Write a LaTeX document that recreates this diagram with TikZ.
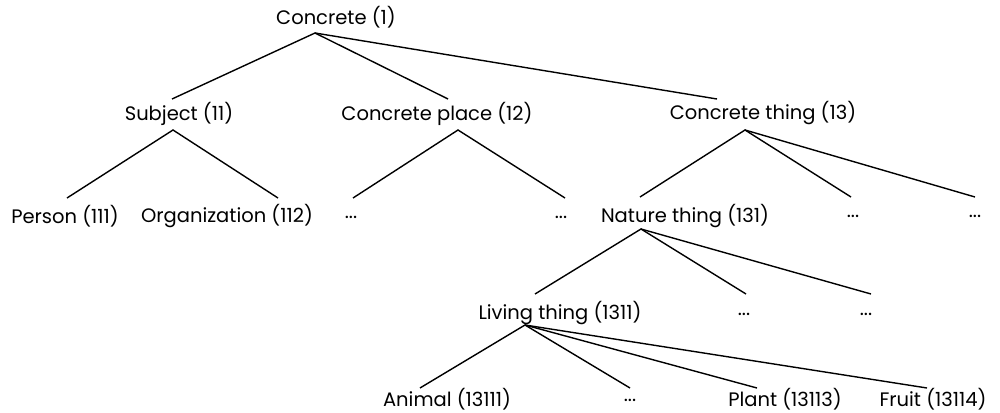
\documentclass[tikz,border=0pt]{standalone}
\usepackage{fontspec}
\setmainfont{Poppins}
\begin{document}
\begin{tikzpicture}[x=1pt,y=-1pt,
  lbl/.style={inner sep=0pt,font=\fontsize{19.5}{22}\selectfont},
  edge/.style={line width=1.4pt,black}]
\useasboundingbox (0,0) rectangle (1000,412);
% nodes
\node[lbl] (c1) at (336,17) {Concrete (1)};
\node[lbl] (s11) at (179,114) {Subject (11)};
\node[lbl] (p12) at (437,114) {Concrete place (12)};
\node[lbl] (t13) at (763,113) {Concrete thing (13)};
\node[lbl] (n111) at (65,216) {Person (111)};
\node[lbl] (n112) at (227,216) {Organization (112)};
\node[lbl] (d121) at (351,217) {...};
\node[lbl] (d122) at (561,217) {...};
\node[lbl] (n131) at (685,216) {Nature thing (131)};
\node[lbl] (d132) at (853,216) {...};
\node[lbl] (d133) at (975,216) {...};
\node[lbl] (n1311) at (560,313) {Living thing (1311)};
\node[lbl] (d1312) at (744,314) {...};
\node[lbl] (d1313) at (866,314) {...};
\node[lbl] (n13111) at (447,399) {Animal (13111)};
\node[lbl] (d13112) at (630,400) {...};
\node[lbl] (n13113) at (785,399) {Plant (13113)};
\node[lbl] (n13114) at (933,399) {Fruit (13114)};
% apex coordinates
\coordinate (a1) at (315,33);
\coordinate (a11) at (173,130);
\coordinate (a12) at (458,130);
\coordinate (a13) at (745,130);
\coordinate (a131) at (641,229);
\coordinate (a1311) at (525,325);
% end coordinates
\coordinate (e11) at (172,99);
\coordinate (e12) at (448,99);
\coordinate (e13) at (717,99);
\coordinate (e111) at (67,198);
\coordinate (e112) at (278,198);
\coordinate (e121) at (353,198);
\coordinate (e122) at (565,198);
\coordinate (e131) at (640,197);
\coordinate (e132) at (851,197);
\coordinate (e133) at (975,197);
\coordinate (e1311) at (535,294);
\coordinate (e1312) at (746,294);
\coordinate (e1313) at (871,294);
\coordinate (e13111) at (420,388);
\coordinate (e13112) at (630,388);
\coordinate (e13113) at (757,388);
\coordinate (e13114) at (927,388);
% connectors
\draw[edge] (e11) -- (a1) -- (e12);
\draw[edge] (a1) -- (e13);
\draw[edge] (e111) -- (a11) -- (e112);
\draw[edge] (e121) -- (a12) -- (e122);
\draw[edge] (e131) -- (a13) -- (e132);
\draw[edge] (a13) -- (e133);
\draw[edge] (e1311) -- (a131) -- (e1312);
\draw[edge] (a131) -- (e1313);
\draw[edge] (e13111) -- (a1311) -- (e13112);
\draw[edge] (a1311) -- (e13113);
\draw[edge] (a1311) -- (e13114);
\end{tikzpicture}
\end{document}
